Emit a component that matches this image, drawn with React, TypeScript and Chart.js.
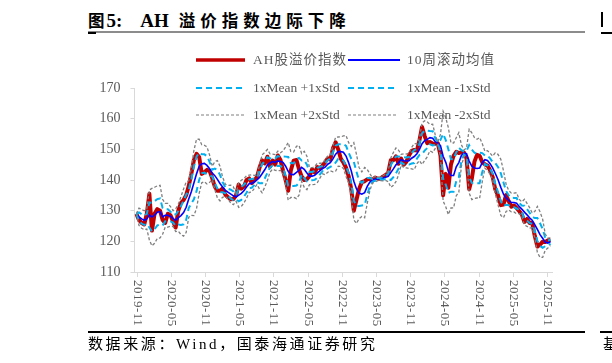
import React, { useEffect, useRef } from "react";
import { Chart, registerables } from "chart.js";

Chart.register(...registerables);

// ---------------- data ----------------
const START_DATE = "2019-10-28"; // first bi-weekly observation
const STEP_DAYS = 14;
const ROLL_WINDOW = 5; // 5 bi-weekly points = 10 weeks

const AH_INDEX: number[] = [
  129, 127, 126, 125.5, 129, 135.5, 123.5, 129, 130.5, 130,
  127, 126, 129, 128.5, 126.5, 124.5, 130, 132.5, 133.5, 135,
  138, 142, 146.5, 148.5, 147.5, 142, 142.5, 143.3, 143, 140.5,
  137.8, 136.5, 136.5, 137.2, 135.2, 134.3, 133.7, 133.8, 135, 138.5,
  137.2, 137.8, 140, 140.5, 139, 139.8, 141, 144, 146.4, 145.4,
  147.6, 144.3, 146.3, 145, 148, 146.5, 143, 140, 136.5, 143,
  146.3, 146.5, 143.5, 141.2, 140, 140.3, 141.3, 143.5, 142.4, 144.2,
  143.9, 144.7, 145.8, 147.1, 146.6, 150.3, 152.3, 150, 147, 145.7,
  144, 141.2, 137, 130, 133.5, 137, 139.3, 139.6, 140.2, 140.4,
  140, 140.8, 140.4, 140.4, 141.1, 141.6, 142.4, 146.5, 146.5, 147.7,
  145.3, 147, 145, 146, 148, 149.5, 149.8, 149.6, 153, 157.3,
  154.4, 152, 152.4, 151.9, 151.8, 152, 148, 135, 142, 137.5,
  145, 147.9, 149.2, 148.8, 149, 149, 147, 137, 140.5, 146,
  148.2, 147.9, 145.8, 145.1, 144.7, 143.2, 141, 137, 135, 131.8,
  132, 135.1, 133.1, 131.3, 131.7, 130.9, 129.9, 128.8, 126.3, 127.3,
  126, 126, 121.8, 118.3, 118.9, 119.9, 119.8, 120.3, 120.5,
];

const TICK_LABELS: string[] = [
  "2019-11", "2020-05", "2020-11", "2021-05", "2021-11", "2022-05", "2022-11",
  "2023-05", "2023-11", "2024-05", "2024-11", "2025-05", "2025-11",
];

const Y_MIN = 110;
const Y_MAX = 170;
const Y_STEP = 10;

const SERIES_NAMES = {
  index: "AH股溢价指数",
  mean: "10周滚动均值",
  p1: "1xMean +1xStd",
  m1: "1xMean -1xStd",
  p2: "1xMean +2xStd",
  m2: "1xMean -2xStd",
};

// ---------------- helpers ----------------
// month position relative to 2019-11
function monthPos(d: Date): number {
  const y = d.getUTCFullYear();
  const m = d.getUTCMonth() + 1;
  const day = d.getUTCDate();
  const dim = new Date(Date.UTC(y, m, 0)).getUTCDate();
  return (y - 2019) * 12 + (m - 11) + (day - 1) / dim;
}
function labelPos(lab: string): number {
  const [y, m] = lab.split("-").map(Number);
  return (y - 2019) * 12 + (m - 11);
}

const startMs = Date.parse(START_DATE + "T00:00:00Z");
const X_POS = AH_INDEX.map((_, i) => monthPos(new Date(startMs + i * STEP_DAYS * 86400000)));
const TICK_VALUES = TICK_LABELS.map(labelPos);

function rollingStats(vals: number[], w: number) {
  const mean: number[] = [];
  const std: number[] = [];
  vals.forEach((_, i) => {
    const win = vals.slice(Math.max(0, i - w + 1), i + 1);
    const mu = win.reduce((a, b) => a + b, 0) / win.length;
    const v = win.length > 1 ? win.reduce((a, b) => a + (b - mu) * (b - mu), 0) / (win.length - 1) : 0;
    mean.push(mu);
    std.push(Math.sqrt(v));
  });
  return { mean, std };
}

const RED = "#C00000";
const BLUE = "#0000FF";
const CYAN = "#00B0F0";
const GRAY = "#7F7F7F";
const AXIS = "#D9D9D9";
const TEXT = "#595959";
const SERIF = '"Liberation Serif", "Times New Roman", "Noto Sans CJK SC", serif';
const CJK = '"Noto Sans CJK SC", "Liberation Serif", sans-serif';

const xLabelPlugin = {
  id: "xLabelsRot",
  afterDraw(chart: any) {
    const sc = chart.scales.x;
    const ctx = chart.ctx as CanvasRenderingContext2D;
    ctx.save();
    ctx.fillStyle = TEXT;
    ctx.font = '13px "Liberation Serif", serif';
    try {
      (ctx as any).letterSpacing = "0.5px";
    } catch (e) {}
    TICK_LABELS.forEach((lab, k) => {
      const px = sc.getPixelForValue(TICK_VALUES[k]);
      ctx.save();
      ctx.translate(px, chart.chartArea.bottom + 8);
      ctx.rotate(Math.PI / 2);
      ctx.textAlign = "left";
      ctx.textBaseline = "middle";
      ctx.fillText(lab, 0, 0);
      ctx.restore();
    });
    ctx.restore();
  },
};

function LegendLine({ x, y, w, color, width, dash }: any) {
  return (
    <svg
      style={{ position: "absolute", left: x, top: y - 4, overflow: "visible" }}
      width={w}
      height={8}
    >
      <line
        x1={0}
        y1={4}
        x2={w}
        y2={4}
        stroke={color}
        strokeWidth={width}
        strokeDasharray={dash || undefined}
      />
    </svg>
  );
}

function LegendText({ x, y, text, cjk }: any) {
  return (
    <div
      style={{
        position: "absolute",
        left: x,
        top: y - 9,
        height: 18,
        lineHeight: "18px",
        fontSize: 13.5,
        fontFamily: SERIF,
        color: TEXT,
        letterSpacing: cjk ? "1px" : "0px",
        whiteSpace: "nowrap",
      }}
    >
      {text}
    </div>
  );
}

export default function App() {
  const ref = useRef<HTMLCanvasElement | null>(null);

  useEffect(() => {
    if (!ref.current) return;
    const { mean, std } = rollingStats(AH_INDEX, ROLL_WINDOW);
    const pts = (arr: number[]) => arr.map((v, i) => ({ x: X_POS[i], y: v }));
    const band = (k: number) => mean.map((m, i) => ({ x: X_POS[i], y: m + k * std[i] }));

    const base = { pointRadius: 0, pointHoverRadius: 0, tension: 0, fill: false };
    const chart = new Chart(ref.current, {
      type: "line",
      data: {
        datasets: [
          { ...base, label: SERIES_NAMES.index, data: pts(AH_INDEX), borderColor: RED, borderWidth: 4, order: 6, borderJoinStyle: "round" },
          { ...base, label: SERIES_NAMES.mean, data: pts(mean), borderColor: BLUE, borderWidth: 1.6, order: 5 },
          { ...base, label: SERIES_NAMES.p1, data: band(1), borderColor: CYAN, borderWidth: 2, borderDash: [6, 4], order: 4 },
          { ...base, label: SERIES_NAMES.m1, data: band(-1), borderColor: CYAN, borderWidth: 2, borderDash: [6, 4], order: 3 },
          { ...base, label: SERIES_NAMES.p2, data: band(2), borderColor: GRAY, borderWidth: 1.3, borderDash: [3, 2], order: 2 },
          { ...base, label: SERIES_NAMES.m2, data: band(-2), borderColor: GRAY, borderWidth: 1.3, borderDash: [3, 2], order: 1 },
        ],
      } as any,
      options: {
        animation: false,
        responsive: false,
        devicePixelRatio: 1,
        layout: { padding: { top: 88, right: 60, bottom: 0, left: 0 } },
        plugins: { legend: { display: false }, tooltip: { enabled: false } },
        scales: {
          x: {
            type: "linear",
            min: -0.45,
            max: 72.8,
            afterBuildTicks: (scale: any) => {
              scale.ticks = TICK_VALUES.map((v) => ({ value: v }));
            },
            afterFit: (scale: any) => {
              scale.height = 91;
            },
            ticks: { display: false },
            grid: { drawOnChartArea: false, drawTicks: true, tickLength: 5, color: AXIS },
            border: { color: AXIS, width: 1 },
          },
          y: {
            type: "linear",
            min: Y_MIN,
            max: Y_MAX,
            afterFit: (scale: any) => {
              scale.width = 134.5;
            },
            ticks: {
              stepSize: Y_STEP,
              color: TEXT,
              padding: 10,
              font: { family: '"Liberation Serif", serif', size: 14 },
            },
            grid: { drawOnChartArea: false, drawTicks: true, tickLength: 4, color: AXIS },
            border: { color: AXIS, width: 1 },
          },
        },
      } as any,
      plugins: [xLabelPlugin],
    });
    return () => chart.destroy();
  }, []);

  return (
    <div
      style={{
        position: "fixed",
        left: 0,
        top: 0,
        width: 612,
        height: 363,
        background: "#fff",
        overflow: "hidden",
      }}
    >
      {/* title */}
      <div
        style={{
          position: "absolute",
          left: 88,
          top: 8,
          height: 24,
          lineHeight: "24px",
          whiteSpace: "nowrap",
          color: "#000",
          fontWeight: 700,
        }}
      >
        <span style={{ fontFamily: CJK, fontSize: 16.5 }}>图</span>
        <span style={{ fontFamily: SERIF, fontSize: 19, marginLeft: 2 }}>5:</span>
        <span style={{ fontFamily: SERIF, fontSize: 19, marginLeft: 18 }}>AH</span>
        <span style={{ fontFamily: CJK, fontSize: 16.5, marginLeft: 10, letterSpacing: "5px" }}>溢价指数边际下降</span>
      </div>
      <div style={{ position: "absolute", left: 88, top: 31, width: 497, height: 2, background: "#8c8c8c" }} />
      <div style={{ position: "absolute", left: 88, top: 32, width: 8, height: 2, background: "#000" }} />
      <div style={{ position: "absolute", left: 601, top: 12, width: 2, height: 15, background: "#000" }} />
      <div style={{ position: "absolute", left: 601, top: 32, width: 11, height: 2, background: "#000" }} />

      <canvas
        ref={ref}
        width={612}
        height={363}
        style={{ position: "absolute", left: 0, top: 0, width: 612, height: 363 }}
      />

      {/* legend */}
      <LegendLine x={196} y={60} w={49} color={RED} width={3.5} />
      <LegendText x={253} y={60} text={SERIES_NAMES.index} cjk />
      <LegendLine x={348} y={60} w={52} color={BLUE} width={2} />
      <LegendText x={407} y={60} text={SERIES_NAMES.mean} cjk />
      <LegendLine x={196} y={88} w={48} color={CYAN} width={2} dash="6 4" />
      <LegendText x={253} y={88} text={SERIES_NAMES.p1} />
      <LegendLine x={348} y={88} w={46} color={CYAN} width={2} dash="6 4" />
      <LegendText x={407} y={88} text={SERIES_NAMES.m1} />
      <LegendLine x={196} y={115} w={49} color={GRAY} width={1.2} dash="3 2" />
      <LegendText x={253} y={115} text={SERIES_NAMES.p2} />
      <LegendLine x={348} y={115} w={48} color={GRAY} width={1.2} dash="3 2" />
      <LegendText x={407} y={115} text={SERIES_NAMES.m2} />

      {/* source */}
      <div style={{ position: "absolute", left: 88, top: 331, width: 497, height: 1.5, background: "#000" }} />
      <div style={{ position: "absolute", left: 600, top: 331, width: 12, height: 1.5, background: "#000" }} />
      <div
        style={{
          position: "absolute",
          left: 88,
          top: 334,
          height: 20,
          lineHeight: "20px",
          fontSize: 15,
          fontFamily: SERIF,
          color: "#000",
          letterSpacing: "2.6px",
          whiteSpace: "nowrap",
        }}
      >
        数据来源：Wind，国泰海通证券研究
      </div>
      <div
        style={{
          position: "absolute",
          left: 603,
          top: 334,
          height: 20,
          lineHeight: "20px",
          fontSize: 15,
          fontFamily: SERIF,
          color: "#000",
          whiteSpace: "nowrap",
        }}
      >
        基
      </div>
    </div>
  );
}
